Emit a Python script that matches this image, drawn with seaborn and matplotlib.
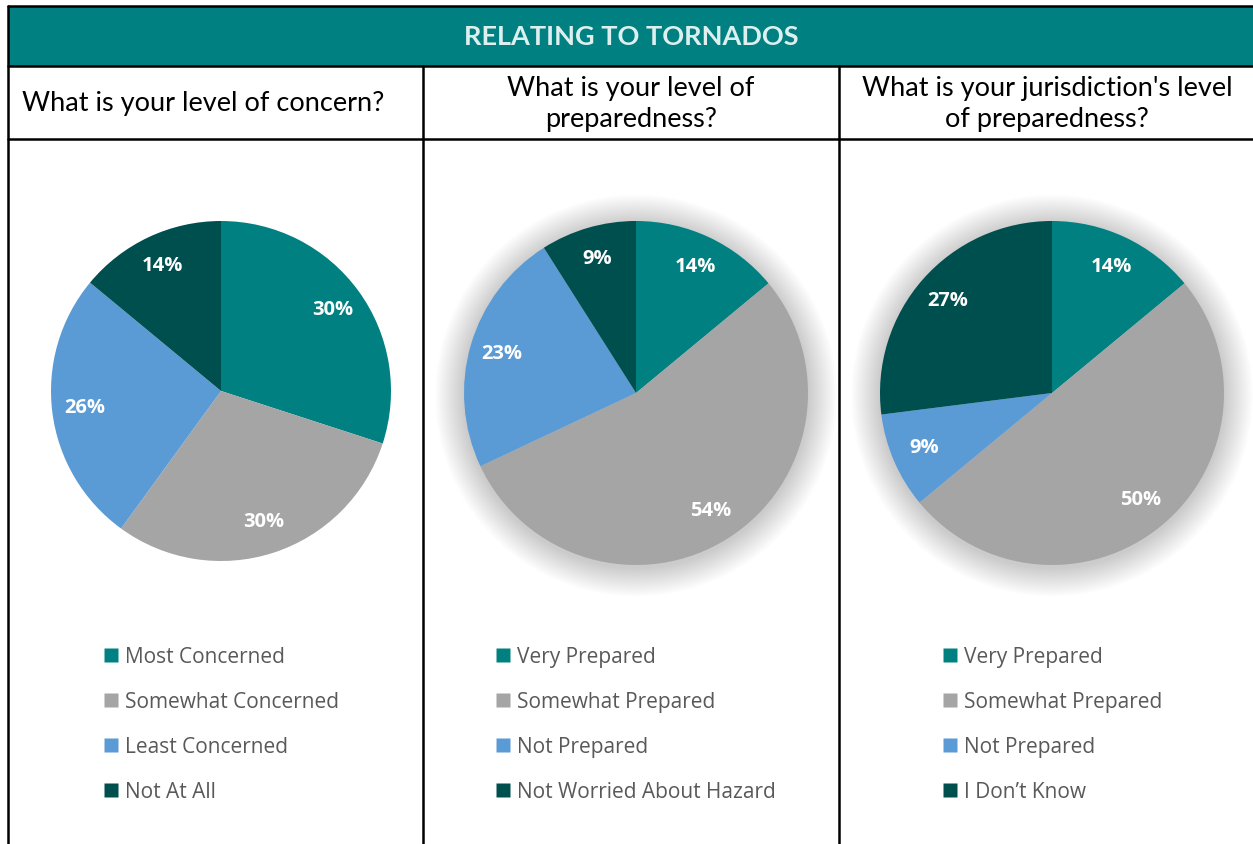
import numpy as np
import pandas as pd
import seaborn as sns
import matplotlib.pyplot as plt
from matplotlib.patches import Rectangle, Circle
from matplotlib.lines import Line2D

# ---- data ----
main_title = 'RELATING TO TORNADOS'
questions = ['What is your level of concern?',
             'What is your level of\npreparedness?',
             "What is your jurisdiction's level\nof preparedness?"]

concern_labels = ['Most Concerned', 'Somewhat Concerned', 'Least Concerned', 'Not At All']
concern_values = [30, 30, 26, 14]

prep_labels = ['Very Prepared', 'Somewhat Prepared', 'Not Prepared', 'Not Worried About Hazard']
prep_values = [14, 54, 23, 9]

jur_labels = ['Very Prepared', 'Somewhat Prepared', 'Not Prepared', 'I Don\u2019t Know']
jur_values = [14, 50, 9, 27]

colors = ['#008080', '#A5A5A5', '#5B9BD5', '#004F4F']

sns.set_theme(style='white')
plt.rcParams['font.family'] = ['Lato', 'DejaVu Sans']

W, H = 1253, 844
fig = plt.figure(figsize=(W / 100, H / 100), dpi=100)

# overlay axes in pixel coords for the table
bg = fig.add_axes([0, 0, 1, 1])
bg.set_xlim(0, W)
bg.set_ylim(H, 0)
bg.axis('off')

bg.add_patch(Rectangle((8, 6), W - 8, 60, facecolor='#008080', edgecolor='none'))
bg.text(631, 37, main_title, color='#DDEFEF', fontsize=19.5, fontweight='bold',
        ha='center', va='center')
lw = 1.8
bg.plot([8, W], [6, 6], color='black', lw=lw)
bg.plot([8, W], [66, 66], color='black', lw=lw)
bg.plot([8, W], [139, 139], color='black', lw=lw)
bg.plot([8, 8], [6, H], color='black', lw=lw)
bg.plot([423, 423], [66, H], color='black', lw=lw)
bg.plot([839, 839], [66, H], color='black', lw=lw)

bg.text(22, 104, questions[0], fontsize=19.5, ha='left', va='center', color='black')
bg.text(631, 104, questions[1], fontsize=19.5, ha='center', va='center', color='black',
        linespacing=1.3)
bg.text(1047, 104, questions[2], fontsize=19.5, ha='center', va='center', color='black',
        linespacing=1.3)

panels = [
    (concern_labels, concern_values, 221, 391, 170, False, 103),
    (prep_labels, prep_values, 636, 393, 172, True, 495),
    (jur_labels, jur_values, 1052, 393, 172, True, 942),
]

for labels, values, cx, cy, R, shadow, legx in panels:
    df = pd.DataFrame({'label': labels, 'value': values})
    pad = 1.25
    size = 2 * pad * R
    ax = fig.add_axes([(cx - size / 2) / W, 1 - (cy + size / 2) / H, size / W, size / H])
    if shadow:
        # soft glow behind the pie
        for k in range(26):
            r = 1.0 + 0.0065 * (k + 1)
            ax.add_patch(Circle((0.0, -0.015), r, facecolor='black', edgecolor='none',
                                alpha=0.0085, zorder=0))
    wedges, texts = ax.pie(df['value'], colors=colors, startangle=90, counterclock=False,
                           radius=1, wedgeprops=dict(linewidth=0, zorder=2))
    for w, v in zip(wedges, df['value']):
        ang = np.deg2rad((w.theta1 + w.theta2) / 2)
        ax.text(0.81 * np.cos(ang), 0.81 * np.sin(ang), f'{v}%', color='white',
                fontsize=14.5, fontweight='bold', family='Open Sans',
                ha='center', va='center', zorder=5)
    ax.set_xlim(-pad, pad)
    ax.set_ylim(-pad, pad)
    ax.set_aspect('equal')
    ax.axis('off')

    handles = [Line2D([], [], marker='s', linestyle='none', markersize=10,
                      markerfacecolor=c, markeredgecolor='none') for c in colors]
    fig.legend(handles, df['label'].tolist(), loc='upper left',
               bbox_to_anchor=((legx - 20) / W, 1 - 628 / H), frameon=False,
               handlelength=0.9, handletextpad=0.2, labelspacing=1.15,
               prop={'family': 'Open Sans', 'size': 15}, labelcolor='#595959')

fig.savefig('out.png', dpi=100)
